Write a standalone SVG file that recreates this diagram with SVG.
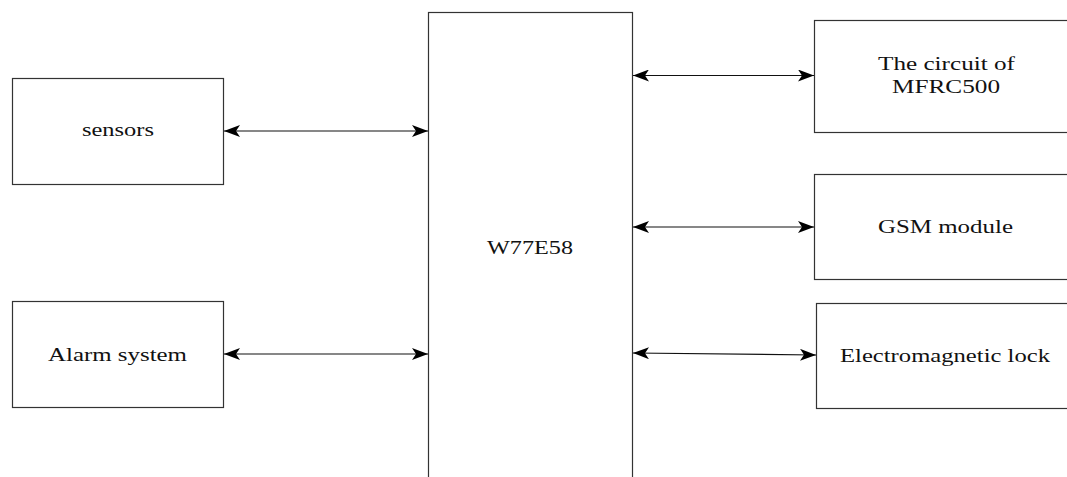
<svg xmlns="http://www.w3.org/2000/svg" width="1067" height="477" viewBox="0 0 1067 477">
<style>
.box{fill:#fff;stroke:#333;stroke-width:1.2}
.lbl{font-family:"Liberation Serif","Times New Roman",serif;font-size:18px;fill:#111}
.con{stroke:#111;stroke-width:1.2;fill:none}
</style>
<defs>
<marker id="ah" markerUnits="userSpaceOnUse" markerWidth="16" markerHeight="12" refX="16" refY="6" orient="auto-start-reverse" viewBox="0 0 16 12">
<path d="M0,0 L16,6 L0,12 L4,6 z" fill="#000"/>
</marker>
</defs>
<rect width="1067" height="477" fill="#fff"/>
<g id="w77e58">
<rect class="box" x="428.5" y="12.5" width="204" height="480"/>
<text class="lbl" x="487" y="254" textLength="86" lengthAdjust="spacingAndGlyphs">W77E58</text>
</g>
<g id="sensors">
<rect class="box" x="12.5" y="78.5" width="211" height="106"/>
<text class="lbl" x="82" y="136" textLength="72" lengthAdjust="spacingAndGlyphs">sensors</text>
</g>
<g id="alarm">
<rect class="box" x="12.5" y="301.5" width="211" height="106"/>
<text class="lbl" x="48" y="361" textLength="139" lengthAdjust="spacingAndGlyphs">Alarm system</text>
</g>
<g id="mfrc500">
<rect class="box" x="814.5" y="20.5" width="260" height="112"/>
<text class="lbl" x="878" y="70" textLength="137" lengthAdjust="spacingAndGlyphs">The circuit of</text>
<text class="lbl" x="892" y="93" textLength="108" lengthAdjust="spacingAndGlyphs">MFRC500</text>
</g>
<g id="gsm">
<rect class="box" x="814.5" y="174.5" width="260" height="105"/>
<text class="lbl" x="878" y="233" textLength="135" lengthAdjust="spacingAndGlyphs">GSM module</text>
</g>
<g id="lock">
<rect class="box" x="816.5" y="303.5" width="260" height="105"/>
<text class="lbl" x="840" y="362" textLength="210" lengthAdjust="spacingAndGlyphs">Electromagnetic lock</text>
</g>
<g id="connectors">
<line class="con" x1="224" y1="131" x2="428" y2="131" marker-start="url(#ah)" marker-end="url(#ah)"/>
<line class="con" x1="224" y1="354" x2="428" y2="354" marker-start="url(#ah)" marker-end="url(#ah)"/>
<line class="con" x1="633" y1="75.5" x2="814" y2="75.5" marker-start="url(#ah)" marker-end="url(#ah)"/>
<line class="con" x1="633" y1="227" x2="814" y2="227" marker-start="url(#ah)" marker-end="url(#ah)"/>
<line class="con" x1="633" y1="353" x2="816" y2="355" marker-start="url(#ah)" marker-end="url(#ah)"/>
</g>
</svg>
